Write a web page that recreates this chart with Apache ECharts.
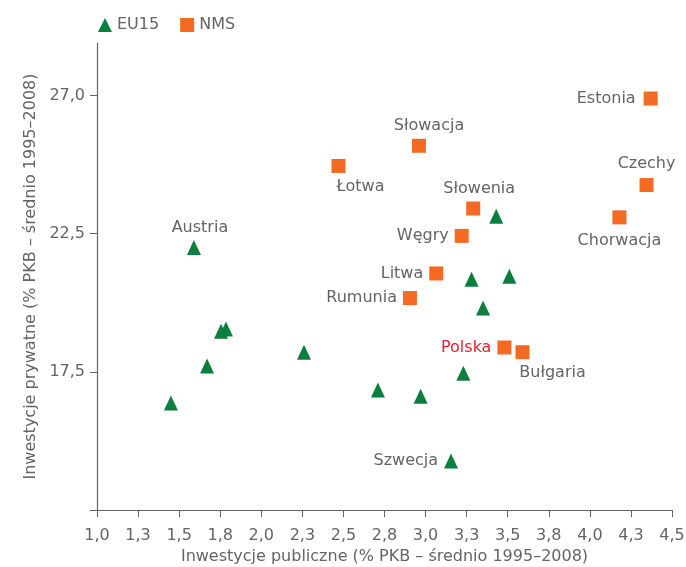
<!DOCTYPE html>
<html>
<head>
<meta charset="utf-8">
<script src="https://cdn.jsdelivr.net/npm/echarts@6/dist/echarts.min.js"></script>
<style>
  html, body { margin: 0; padding: 0; background: #fff; }
  #chart { width: 686px; height: 567px; }
</style>
</head>
<body>
<div id="chart"></div>
<script>
// dane
const eu15Names = ['Austria', '', '', '', '', '', '', '', '', 'Szwecja', '', '', '', ''];
const eu15X = [1.59, 1.755, 1.785, 1.67, 1.45, 2.26, 2.71, 2.97, 3.23, 3.155, 3.35, 3.28, 3.51, 3.43];
const eu15Y = [22.0, 18.97, 19.05, 17.71, 16.37, 18.21, 16.84, 16.62, 17.45, 14.27, 19.81, 20.85, 20.96, 23.13];

const nmsNames = ['Estonia', 'Słowacja', 'Łotwa', 'Czechy', 'Słowenia', 'Chorwacja', 'Węgry', 'Litwa', 'Rumunia', 'Polska', 'Bułgaria'];
const nmsX = [4.37, 2.96, 2.47, 4.345, 3.29, 4.18, 3.22, 3.065, 2.905, 3.48, 3.59];
const nmsY = [27.39, 25.68, 24.95, 24.26, 23.41, 23.09, 22.42, 21.06, 20.17, 18.38, 18.21];

const xTickValues = [1.0, 1.25, 1.5, 1.75, 2.0, 2.25, 2.5, 2.75, 3.0, 3.25, 3.5, 3.75, 4.0, 4.25, 4.5];
const xTickLabels = ['1,0', '1,3', '1,5', '1,8', '2,0', '2,3', '2,5', '2,8', '3,0', '3,3', '3,5', '3,8', '4,0', '4,3', '4,5'];
const yTickValues = [12.5, 17.5, 22.5, 27.5];
const yTickLabels = ['', '17,5', '22,5', '27,0'];

// gdzie stoi podpis przy punkcie
const labelPos = {
  'Austria': { position: 'top', offset: [6, 2] },
  'Szwecja': { position: 'left' },
  'Estonia': { position: 'left', offset: [-2, 0] },
  'Słowacja': { position: 'top', offset: [10, 1] },
  'Łotwa': { position: 'bottom', offset: [22, 0] },
  'Czechy': { position: 'top' },
  'Słowenia': { position: 'top', offset: [6, 1] },
  'Chorwacja': { position: 'bottom', offset: [0, 2] },
  'Węgry': { position: 'left' },
  'Litwa': { position: 'left' },
  'Rumunia': { position: 'left' },
  'Polska': { position: 'left', color: '#ec1c2a' },
  'Bułgaria': { position: 'bottom', offset: [30, 0] }
};

const grey = '#636466';
const font = '"DejaVu Sans", sans-serif';

function points(names, xs, ys) {
  return names.map(function (n, i) {
    const item = { name: n, value: [xs[i], ys[i]] };
    if (n && labelPos[n]) {
      item.label = Object.assign({ show: true }, labelPos[n]);
    }
    return item;
  });
}

const chart = echarts.init(document.getElementById('chart'));
const option = {
  animation: false,
  textStyle: { fontFamily: font },
  grid: { left: 97, right: 14, top: 43, bottom: 57, containLabel: false, outerBoundsMode: 'none' },
  legend: {
    left: 93,
    top: 12,
    itemWidth: 14,
    itemHeight: 14,
    itemGap: 21,
    textStyle: { color: grey, fontSize: 16, fontFamily: font },
    data: ['EU15', 'NMS']
  },
  xAxis: {
    type: 'value',
    min: 1,
    max: 4.5,
    interval: 0.25,
    name: 'Inwestycje publiczne (% PKB – średnio 1995–2008)',
    nameLocation: 'middle',
    nameGap: 39,
    nameTextStyle: { color: grey, fontSize: 16, fontFamily: font },
    axisLine: { lineStyle: { color: grey, width: 1.2 } },
    axisTick: { show: true, length: 7, lineStyle: { color: grey } },
    axisLabel: {
      color: grey, fontSize: 16, margin: 18, fontFamily: font,
      customValues: xTickValues,
      formatter: function (v) {
        const i = xTickValues.findIndex(function (t) { return Math.abs(t - v) < 1e-6; });
        return i >= 0 ? xTickLabels[i] : '';
      }
    },
    splitLine: { show: false }
  },
  yAxis: {
    type: 'value',
    min: 12.5,
    max: 29.4,
    name: 'Inwestycje prywatne (% PKB – średnio 1995–2008)',
    nameLocation: 'middle',
    nameGap: 56,
    nameTextStyle: { color: grey, fontSize: 16, fontFamily: font },
    axisLine: { show: true, lineStyle: { color: grey, width: 1.2 } },
    axisTick: { show: true, length: 7, lineStyle: { color: grey }, customValues: yTickValues },
    axisLabel: {
      color: grey, fontSize: 16, margin: 12, fontFamily: font,
      customValues: yTickValues.slice(1),
      formatter: function (v) {
        const i = yTickValues.findIndex(function (t) { return Math.abs(t - v) < 1e-6; });
        return i >= 0 ? yTickLabels[i] : '';
      }
    },
    splitLine: { show: false }
  },
  series: [
    {
      name: 'EU15',
      type: 'scatter',
      symbol: 'triangle',
      symbolSize: [14, 15],
      itemStyle: { color: '#0b7f3f', opacity: 1 },
      label: { show: false, formatter: '{b}', color: grey, fontSize: 16, fontFamily: font, distance: 6 },
      data: points(eu15Names, eu15X, eu15Y)
    },
    {
      name: 'NMS',
      type: 'scatter',
      symbol: 'rect',
      symbolSize: 14,
      itemStyle: { color: '#f46a23', opacity: 1 },
      label: { show: false, formatter: '{b}', color: grey, fontSize: 16, fontFamily: font, distance: 6 },
      data: points(nmsNames, nmsX, nmsY)
    }
  ]
};
chart.setOption(option);
</script>
</body>
</html>
